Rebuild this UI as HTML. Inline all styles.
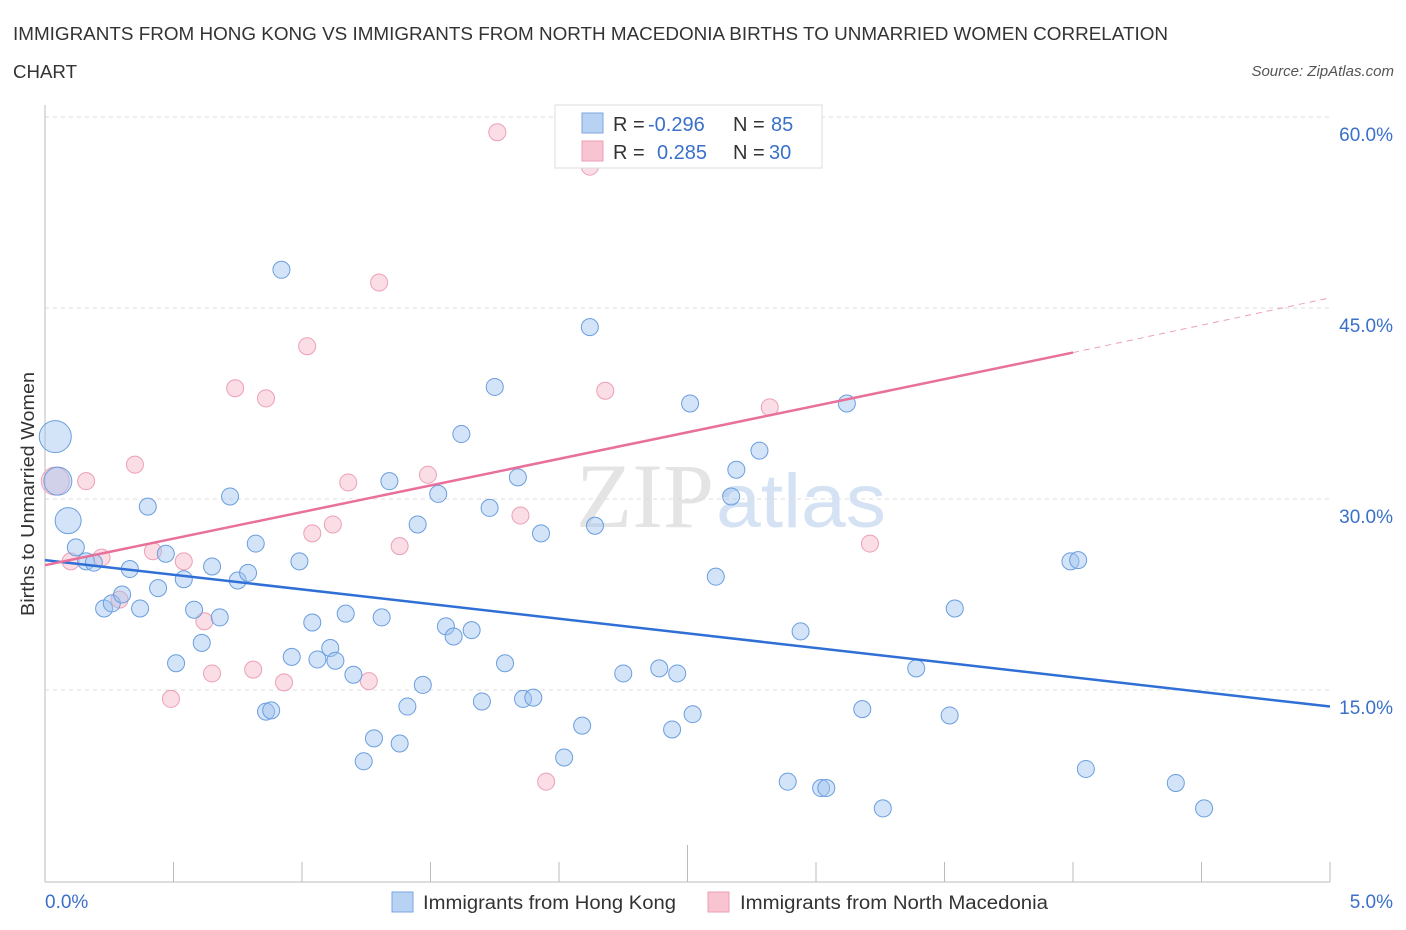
<!DOCTYPE html>
<html><head><meta charset="utf-8"><style>
body{margin:0;background:#fff;font-family:"Liberation Sans",sans-serif;}
svg{display:block}
</style></head><body>
<svg id="chart" width="1406" height="930" xmlns="http://www.w3.org/2000/svg">
<text x="13" y="40" font-size="18" fill="#333" textLength="1155" lengthAdjust="spacingAndGlyphs">IMMIGRANTS FROM HONG KONG VS IMMIGRANTS FROM NORTH MACEDONIA BIRTHS TO UNMARRIED WOMEN CORRELATION</text>
<text x="13" y="78" font-size="18" fill="#333" textLength="64" lengthAdjust="spacingAndGlyphs">CHART</text>
<text x="1394" y="76" font-size="15" fill="#555" text-anchor="end" font-style="italic">Source: ZipAtlas.com</text>
<text x="714" y="527" font-size="92" text-anchor="end" fill="#e4e4e4" font-family="Liberation Serif">ZIP</text>
<text x="716" y="527" font-size="76" fill="#d4e2f4" textLength="170" lengthAdjust="spacingAndGlyphs">atlas</text>
<g id="grid"></g>
<g id="axes"></g>
<g id="marks"></g>
<g>
<rect x="555" y="105" width="267" height="63" fill="#fff" stroke="#ddd"/>
<rect x="582" y="113" width="21" height="20" fill="#b8d2f4" stroke="#7aa6e0"/>
<rect x="582" y="141" width="21" height="20" fill="#f8c4d2" stroke="#eba0b6"/>
<text x="613" y="131" font-size="20" fill="#333">R = <tspan x="648" fill="#3a70c8">-0.296</tspan><tspan x="733">N = </tspan><tspan x="771" fill="#3a70c8">85</tspan></text>
<text x="613" y="159" font-size="20" fill="#333">R = <tspan x="657" fill="#3a70c8">0.285</tspan><tspan x="733">N = </tspan><tspan x="769" fill="#3a70c8">30</tspan></text>
</g>
<g>
<rect x="392" y="892" width="21" height="20" fill="#b8d2f4" stroke="#7aa6e0"/>
<text x="423" y="909" font-size="19" fill="#333" textLength="253" lengthAdjust="spacingAndGlyphs">Immigrants from Hong Kong</text>
<rect x="708" y="892" width="21" height="20" fill="#f8c4d2" stroke="#eba0b6"/>
<text x="740" y="909" font-size="19" fill="#333" textLength="308" lengthAdjust="spacingAndGlyphs">Immigrants from North Macedonia</text>
</g>
<text transform="translate(34,494) rotate(-90)" font-size="18" fill="#333" text-anchor="middle" textLength="244" lengthAdjust="spacingAndGlyphs">Births to Unmarried Women</text>
</svg>
<script>
const xTicks=[0,0.5,1,1.5,2,2.5,3,3.5,4,4.5,5];
const yTicks=[15,30,45,60];
const yTickLabels=["15.0%","30.0%","45.0%","60.0%"];
const xLabels=["0.0%","5.0%"];
const blueX=[0.04,0.05,0.09,0.12,0.16,0.19,0.23,0.26,0.30,0.33,0.37,0.40,0.44,0.47,0.51,0.54,0.58,0.61,0.65,0.68,0.72,0.75,0.79,0.82,0.86,0.88,0.92,0.96,0.99,1.04,1.06,1.11,1.13,1.17,1.20,1.24,1.28,1.31,1.34,1.38,1.41,1.45,1.47,1.53,1.56,1.59,1.62,1.66,1.70,1.73,1.75,1.79,1.84,1.86,1.90,1.93,2.02,2.09,2.12,2.14,2.25,2.39,2.44,2.46,2.51,2.52,2.61,2.67,2.69,2.78,2.89,2.94,3.02,3.04,3.12,3.18,3.26,3.39,3.52,3.54,3.99,4.02,4.05,4.40,4.51];
const blueY=[34.9,31.4,28.3,26.2,25.1,25.0,21.4,21.8,22.5,24.5,21.4,29.4,23.0,25.7,17.1,23.7,21.3,18.7,24.7,20.7,30.2,23.6,24.2,26.5,13.3,13.4,48.0,17.6,25.1,20.3,17.4,18.3,17.3,21.0,16.2,9.4,11.2,20.7,31.4,10.8,13.7,28.0,15.4,30.4,20.0,19.2,35.1,19.7,14.1,29.3,38.8,17.1,31.7,14.3,14.4,27.3,9.7,12.2,43.5,27.9,16.3,16.7,11.9,16.3,37.5,13.1,23.9,30.2,32.3,33.8,7.8,19.6,7.3,7.3,37.5,13.5,5.7,16.7,13.0,21.4,25.1,25.2,8.8,7.7,5.7];
const blueR=[16,14,13];
const pinkX=[1.76,2.12,1.30,1.02,0.74,0.86,2.18,2.82,0.35,0.16,0.04,1.49,1.18,1.85,1.12,1.04,1.38,3.21,0.42,0.22,0.10,0.54,0.29,0.62,0.81,0.65,0.93,1.26,0.49,1.95];
const pinkY=[58.8,56.1,47.0,42.0,38.7,37.9,38.5,37.2,32.7,31.4,31.4,31.9,31.3,28.7,28.0,27.3,26.3,26.5,25.9,25.4,25.1,25.1,22.1,20.4,16.6,16.3,15.6,15.7,14.3,7.8];
const blueTrend=[[0,25.2],[5,13.7]];
const pinkTrend=[[0,24.8],[4,41.5]];
const pinkTrendExt=[[4,41.5],[5,45.8]];
const NS="http://www.w3.org/2000/svg";
const sx=v=>45+v*257;
const sy=v=>881-v*191/15;
function mk(tag,attrs,parent){const e=document.createElementNS(NS,tag);for(const k in attrs)e.setAttribute(k,attrs[k]);document.getElementById(parent).appendChild(e);return e;}
yTicks.forEach((t,i)=>{
 const l=mk('line',{x1:45,x2:1330,y1:sy(t),y2:sy(t),stroke:'#ddd','stroke-dasharray':'4,4'},'grid');
 
 
 const tx=mk('text',{x:1393,y:sy(t)+24,'font-size':19,fill:'#3a70c8','text-anchor':'end'},'axes');
 tx.textContent=yTickLabels[i];
 
 
});
const ax=mk('line',{x1:45,x2:45,y1:105,y2:882,stroke:'#bbb'},'axes');


const bx=mk('line',{x1:45,x2:1330,y1:882,y2:882,stroke:'#bbb'},'axes');


xTicks.forEach((t,i)=>{
 const tk=mk('line',{x1:sx(t),x2:sx(t),y1:(i==5?845:862),y2:882,stroke:'#bbb'},'axes');
 
 
});
[[0,45,'start'],[5,1393,'end']].forEach((d,i)=>{
 const tx=mk('text',{x:d[1],y:908,'font-size':19,fill:'#3a70c8','text-anchor':d[2]},'axes');
 tx.textContent=xLabels[i];
 
 
});
pinkX.forEach((x,i)=>{
 const c=mk('circle',{cx:sx(x),cy:sy(pinkY[i]),r:(i==10?14:8.5),fill:'rgba(244,170,192,0.4)',stroke:'#eba0b6','stroke-width':1},'marks');
 
 
});
blueX.forEach((x,i)=>{
 const c=mk('circle',{cx:sx(x),cy:sy(blueY[i]),r:(blueR[i]||8.5),fill:'rgba(160,196,240,0.45)',stroke:'#6a9ede','stroke-width':1},'marks');
 
 
});
const bl=mk('line',{x1:sx(blueTrend[0][0]),y1:sy(blueTrend[0][1]),x2:sx(blueTrend[1][0]),y2:sy(blueTrend[1][1]),stroke:'#2f6fd6','stroke-width':2.5},'marks');


const pl=mk('line',{x1:sx(pinkTrend[0][0]),y1:sy(pinkTrend[0][1]),x2:sx(pinkTrend[1][0]),y2:sy(pinkTrend[1][1]),stroke:'#e8709a','stroke-width':2.5},'marks');


const pe=mk('line',{x1:sx(pinkTrendExt[0][0]),y1:sy(pinkTrendExt[0][1]),x2:sx(pinkTrendExt[1][0]),y2:sy(pinkTrendExt[1][1]),stroke:'#eba0b6','stroke-width':1,'stroke-dasharray':'6,5'},'marks');


</script>
</body></html>
